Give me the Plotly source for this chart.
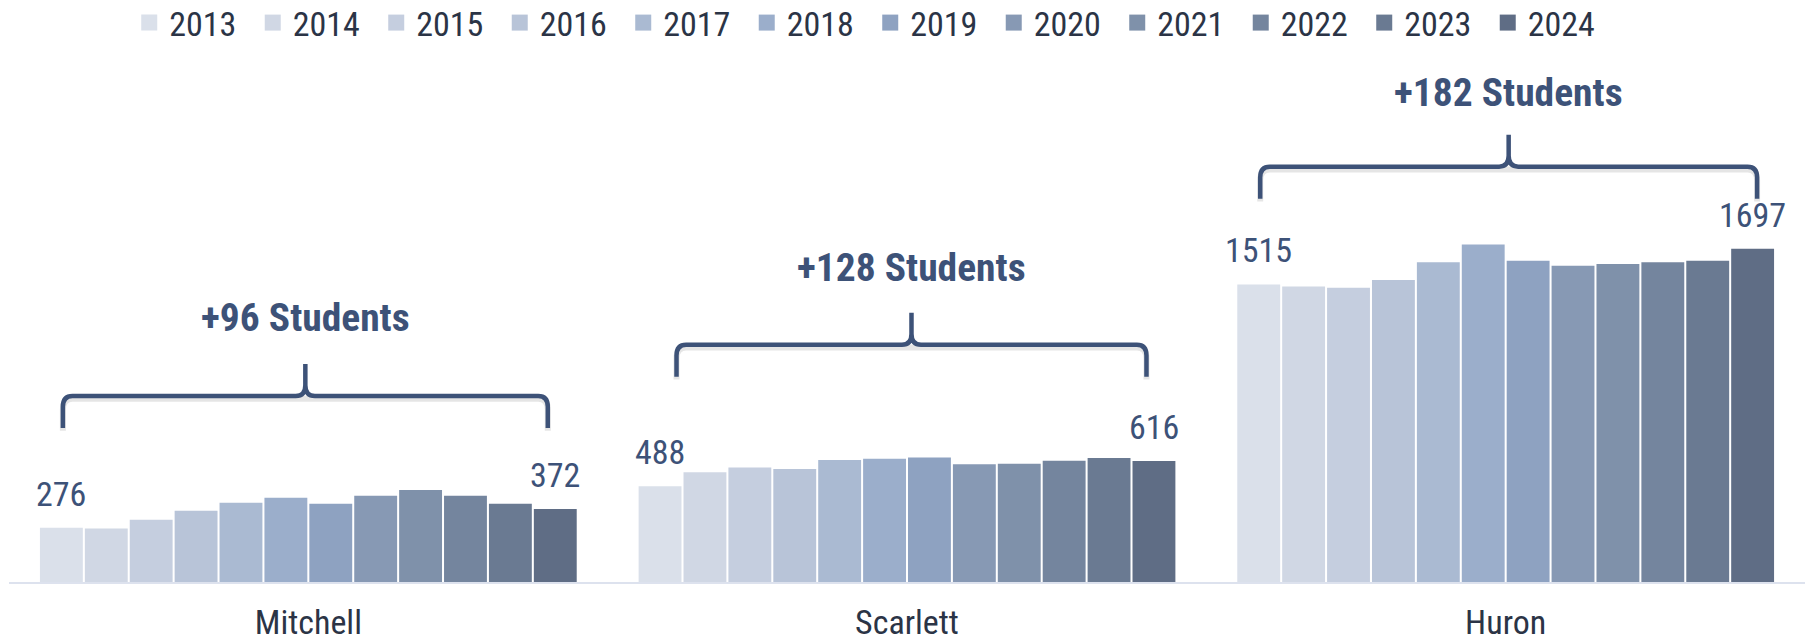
import plotly.graph_objects as go

# ---------------- data ----------------
schools = ["Mitchell", "Scarlett", "Huron"]
years = ["2013", "2014", "2015", "2016", "2017", "2018",
         "2019", "2020", "2021", "2022", "2023", "2024"]
mitchell = [276, 273, 317, 363, 403, 429, 399, 439, 468, 439, 399, 372]
scarlett = [488, 559, 583, 575, 621, 628, 634, 599, 602, 617, 631, 616]
huron = [1515, 1505, 1498, 1538, 1628, 1719, 1636, 1611, 1619, 1628, 1636, 1697]
growth_labels = ["+96 Students", "+128 Students", "+182 Students"]

# ---------------- styling / layout constants ----------------
colors = ["#dae0ea", "#d0d7e4", "#c5cedf", "#b8c4d8", "#aabad2", "#9baecb",
          "#8ea2c1", "#8799b4", "#7f91aa", "#74859e", "#6a7a92", "#5f6d85"]
FONT = "Roboto Condensed, Liberation Sans Narrow, Arial Narrow, Roboto, sans-serif"
NAVY = "#3d5278"
DARK = "#2b3446"
BARGAP = 0.10
W, H = 1805, 644
M_L, M_R, M_T, M_B = 9, 0, 50, 62
YMAX = 2709

# brace placement (value units / category-unit offsets)
brace_bottom = [784, 1045, 1952]
brace_left = [-0.41, -0.385, -0.41]
brace_right = [0.40, 0.40, 0.42]
label_y = [1345, 1600, 2491]
ARM = 163  # brace arm height in value units

series = [mitchell, scarlett, huron]
xs = list(range(len(schools)))

fig = go.Figure()
for j, yr in enumerate(years):
    fig.add_trace(go.Bar(
        x=xs, y=[s[j] for s in series], name=yr,
        marker=dict(color=colors[j], line=dict(width=0)),
        showlegend=False, hoverinfo="skip"))
    # legend proxy with larger square swatch
    fig.add_trace(go.Scatter(
        x=[None], y=[None], mode="markers", name=yr,
        marker=dict(symbol="square", size=16, color=colors[j]),
        showlegend=True, hoverinfo="skip"))

# value labels on first & last bars
n = len(years)
slot = (1 - BARGAP) / n
annotations = []
for i, s in enumerate(series):
    for j in (0, n - 1):
        off = -(1 - BARGAP) / 2 + (j + 0.5) * slot
        annotations.append(dict(
            x=i + off, y=s[j], xref="x", yref="y", text=str(s[j]),
            showarrow=False, yanchor="bottom", yshift=12,
            font=dict(family=FONT, size=34, color=NAVY)))
    annotations.append(dict(
        x=i + (brace_left[i] + brace_right[i]) / 2, y=label_y[i], xref="x", yref="y",
        text="<b>" + growth_labels[i] + "</b>", showarrow=False, yanchor="middle",
        font=dict(family=FONT, size=39.5, color=NAVY)))

shapes = []
rx, ry = 0.016, 55
for i in range(len(schools)):
    xl = i + brace_left[i]
    xr = i + brace_right[i]
    xc = (xl + xr) / 2
    yb = brace_bottom[i]
    yh = yb + ARM
    yt = yh + ARM
    path = (f"M {xl},{yb} L {xl},{yh - ry} Q {xl},{yh} {xl + rx},{yh} "
            f"L {xc - rx},{yh} Q {xc},{yh} {xc},{yh + ry} L {xc},{yt} "
            f"M {xc},{yh + ry} Q {xc},{yh} {xc + rx},{yh} "
            f"L {xr - rx},{yh} Q {xr},{yh} {xr},{yh - ry} L {xr},{yb}")
    shadow = (f"M {xl},{yb - 14} L {xl},{yh - ry - 14} Q {xl},{yh - 14} {xl + rx},{yh - 14} "
              f"L {xr - rx},{yh - 14} Q {xr},{yh - 14} {xr},{yh - ry - 14} L {xr},{yb - 14}")
    shapes.append(dict(type="path", path=shadow, xref="x", yref="y",
                       line=dict(color="rgba(0,0,0,0.10)", width=6), layer="above"))
    shapes.append(dict(type="path", path=path, xref="x", yref="y",
                       line=dict(color=NAVY, width=4.5), layer="above"))

fig.update_layout(
    width=W, height=H,
    margin=dict(l=M_L, r=M_R, t=M_T, b=M_B, autoexpand=False),
    paper_bgcolor="white", plot_bgcolor="white",
    barmode="group", bargap=BARGAP, bargroupgap=0.045,
    font=dict(family=FONT, color=DARK),
    showlegend=True, hovermode=False,
    legend=dict(orientation="h", x=0.0716, xref="container", xanchor="left",
                y=0.9643, yref="container", yanchor="middle",
                font=dict(family=FONT, size=34, color=DARK),
                entrywidth=78.5, entrywidthmode="pixels",
                itemclick=False, bgcolor="rgba(0,0,0,0)"),
    xaxis=dict(range=[-0.5, 2.5], tickmode="array", tickvals=xs, ticktext=schools,
               showline=True, linecolor="#dde2ee", linewidth=2, ticks="",
               showgrid=False, zeroline=False, automargin=False,
               tickfont=dict(family=FONT, size=34, color=DARK), ticklabelstandoff=9),
    yaxis=dict(range=[0, YMAX], visible=False, showgrid=False, zeroline=False,
               automargin=False),
    annotations=annotations,
    shapes=shapes,
)

fig.write_html("out.html", config={"displayModeBar": False, "staticPlot": True},
               post_script="document.body.style.margin='0';document.body.style.overflow='hidden';")
